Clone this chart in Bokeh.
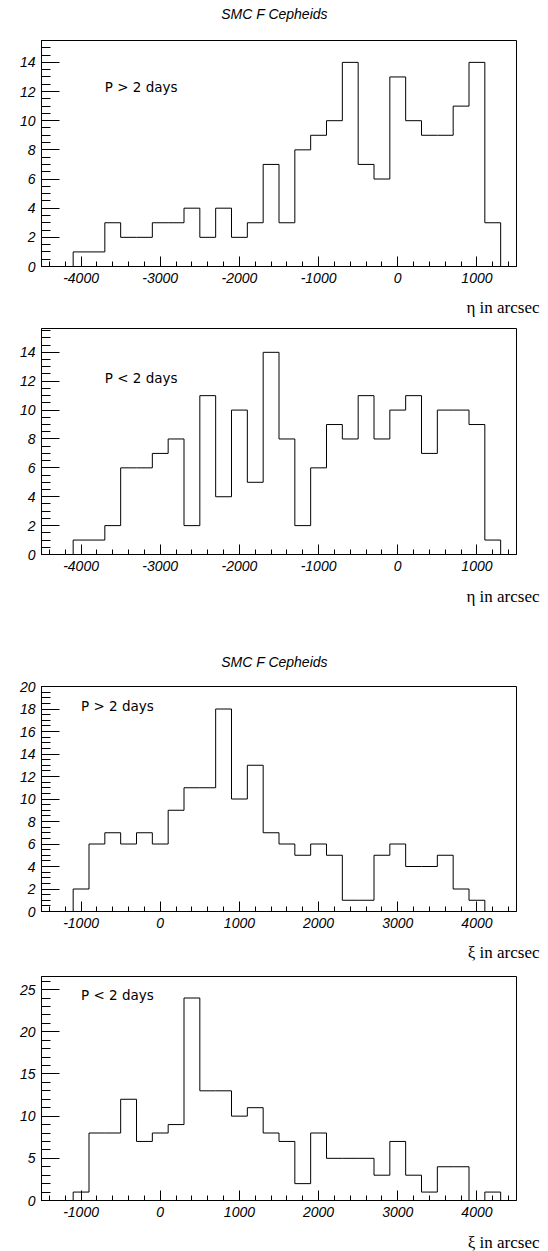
from bokeh.plotting import figure
from bokeh.models import FixedTicker, Label, Range1d
from bokeh.layouts import column
from bokeh.core.properties import value
from bokeh.embed import file_html
from bokeh.resources import INLINE

# ---------------- data ----------------
bin_width = 200
eta_start = -4100
xi_start = -1100

eta_p_gt2 = [1, 1, 3, 2, 2, 3, 3, 4, 2, 4, 2, 3, 7, 3, 8, 9, 10, 14, 7, 6, 13, 10, 9, 9, 11, 14, 3]
eta_p_lt2 = [1, 1, 2, 6, 6, 7, 8, 2, 11, 4, 10, 5, 14, 8, 2, 6, 9, 8, 11, 8, 10, 11, 7, 10, 10, 9, 1]
xi_p_gt2 = [2, 6, 7, 6, 7, 6, 9, 11, 11, 18, 10, 13, 7, 6, 5, 6, 5, 1, 1, 5, 6, 4, 4, 5, 2, 1]
xi_p_lt2 = [1, 8, 8, 12, 7, 8, 9, 24, 13, 13, 10, 11, 8, 7, 2, 8, 5, 5, 5, 3, 7, 3, 1, 4, 4, 0, 1]

eta_ticks = [-4000, -3000, -2000, -1000, 0, 1000]
xi_ticks = [-1000, 0, 1000, 2000, 3000, 4000]
title_text = "SMC F Cepheids"
eta_label = "η in arcsec"
xi_label = "ξ in arcsec"
label_gt2 = "P > 2 days"
label_lt2 = "P < 2 days"

FRAME_W = 475
LEFT = 41
RIGHT = 24
TOTAL_W = LEFT + FRAME_W + RIGHT
TICK_FONT = "Liberation Sans"


def frange(a, b, step):
    out = []
    v = a
    while v <= b + 1e-9:
        out.append(round(v, 6))
        v += step
    return out


def make_panel(values, start, xr, yr, xticks, xminor, yticks, yminor, ptext,
               ptext_pos, frame_h):
    p = figure(frame_width=FRAME_W, frame_height=frame_h,
               x_range=Range1d(*xr), y_range=Range1d(*yr),
               output_backend="svg", toolbar_location=None,
               min_border_left=LEFT, min_border_right=RIGHT,
               min_border_top=10, min_border_bottom=26,
               background_fill_color="white", border_fill_color="white")
    p.grid.visible = False
    p.outline_line_color = "black"
    p.outline_line_width = 1

    # step outline of the histogram
    edges = [start + i * bin_width for i in range(len(values) + 1)]
    xs = [edges[0]] + edges
    ys = [0] + list(values) + [0]
    p.step(xs, ys, mode="after", line_color="black", line_width=1)

    for ax, ticks, minor, tin, mtin in ((p.xaxis[0], xticks, xminor, 10, 5),
                                        (p.yaxis[0], yticks, yminor, 18, 9)):
        ax.ticker = FixedTicker(ticks=ticks, minor_ticks=minor)
        ax.major_label_overrides = {t: str(t) for t in ticks}
        ax.major_tick_in = tin
        ax.major_tick_out = 0
        ax.minor_tick_in = mtin
        ax.minor_tick_out = 0
        ax.major_label_standoff = 6
        ax.major_label_text_font = TICK_FONT
        ax.major_label_text_font_style = "italic"
        ax.major_label_text_font_size = "14px"
        ax.major_label_text_color = "black"
        ax.axis_line_color = "black"
        ax.major_tick_line_color = "black"
        ax.minor_tick_line_color = "black"

    p.add_layout(Label(x=ptext_pos[0], y=ptext_pos[1], text=ptext,
                       text_font="DejaVu Sans", text_font_size="13.5px",
                       text_color="black", text_baseline="middle"))
    return p


def strip(height, texts):
    """Blank band holding titles / axis captions; x,y are page pixels."""
    s = figure(frame_width=TOTAL_W - LEFT, frame_height=height,
               x_range=Range1d(LEFT, TOTAL_W), y_range=Range1d(height, 0),
               output_backend="svg", toolbar_location=None,
               min_border_left=LEFT, min_border_right=0,
               min_border_top=0, min_border_bottom=0,
               x_axis_type=None, y_axis_type=None,
               background_fill_color="white", border_fill_color="white")
    s.grid.visible = False
    s.outline_line_color = None
    for (x, y, t, kind) in texts:
        if kind == "title":
            s.text(x=[x], y=[y], text=[t], text_align="center", text_baseline="middle",
                   text_font=value("Liberation Sans"), text_font_style="italic",
                   text_font_size="14px", text_color="black")
        else:
            s.text(x=[x], y=[y], text=[t], text_align="right", text_baseline="middle",
                   text_font=value("Liberation Serif"), text_font_size="17px",
                   text_color="black")
    return s


eta_minor = frange(-4400, 1400, 200)
xi_minor = frange(-1400, 4400, 200)

TITLE_X = 274
LABEL_X = TOTAL_W - 1

h1 = strip(30, [(TITLE_X, 13, title_text, "title")])
p1 = make_panel(eta_p_gt2, eta_start, (-4500, 1500), (0, 15.5),
                eta_ticks, eta_minor, list(range(0, 15, 2)), frange(0, 15.5, 0.5),
                label_gt2, (-3700, 12.3), 226)
s1 = strip(26, [(LABEL_X, 15, eta_label, "x")])
p2 = make_panel(eta_p_lt2, eta_start, (-4500, 1500), (0, 15.65),
                eta_ticks, eta_minor, list(range(0, 15, 2)), frange(0, 15.5, 0.5),
                label_lt2, (-3700, 12.2), 226)
s2 = strip(96, [(LABEL_X, 16, eta_label, "x"), (TITLE_X, 81, title_text, "title")])
p3 = make_panel(xi_p_gt2, xi_start, (-1500, 4500), (0, 20),
                xi_ticks, xi_minor, list(range(0, 21, 2)), frange(0, 20, 0.5),
                label_gt2, (-1000, 18.3), 225)
s3 = strip(29, [(LABEL_X, 15, xi_label, "x")])
p4 = make_panel(xi_p_lt2, xi_start, (-1500, 4500), (0, 26.55),
                xi_ticks, xi_minor, list(range(0, 26, 5)), frange(0, 26, 1),
                label_lt2, (-1000, 24.4), 224)
s4 = strip(25, [(LABEL_X, 16, xi_label, "x")])

layout = column(h1, p1, s1, p2, s2, p3, s3, p4, s4)
open("out.html", "w").write(file_html(layout, INLINE))
